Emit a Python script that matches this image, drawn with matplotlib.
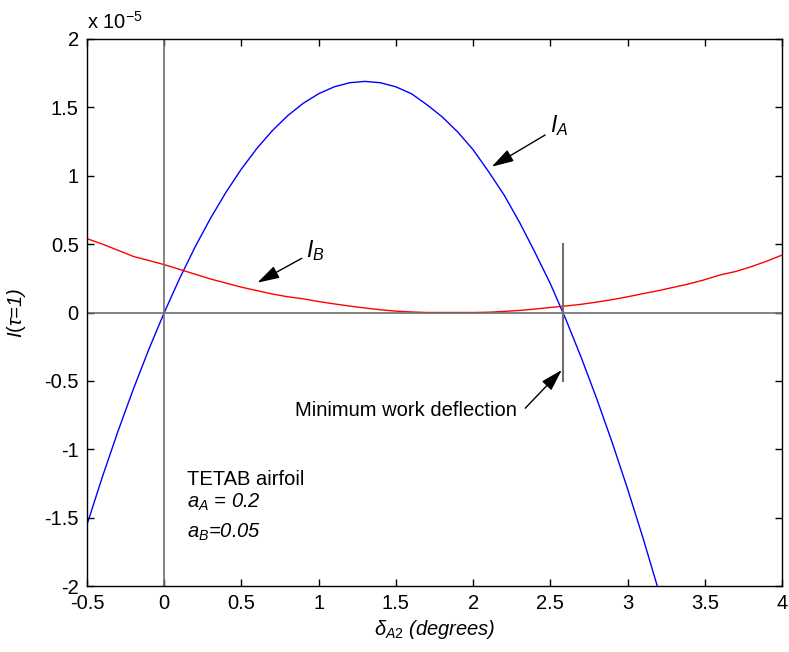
import matplotlib
matplotlib.use('Agg')
import matplotlib.pyplot as plt
import numpy as np

plt.rcParams['font.family'] = ['Liberation Sans', 'DejaVu Sans']
plt.rcParams['mathtext.fontset'] = 'custom'
plt.rcParams['mathtext.rm'] = 'Liberation Sans'
plt.rcParams['mathtext.it'] = 'Liberation Sans:italic'
plt.rcParams['mathtext.bf'] = 'Liberation Sans:bold'

FS = 14.5

# deflection angle (degrees)
delta_a = np.round(np.arange(-0.5, 3.21, 0.1), 2)
delta_b = np.round(np.arange(-0.5, 4.01, 0.1), 2)

# I(tau=1), in units of 1e-5
I_A = [-1.55, -1.20, -0.87, -0.56, -0.27, 0.00, 0.25, 0.48, 0.69, 0.88,
       1.05, 1.20, 1.33, 1.44, 1.53, 1.60, 1.65, 1.68, 1.69, 1.68,
       1.65, 1.60, 1.52, 1.43, 1.32, 1.19, 1.03, 0.86, 0.66, 0.44,
       0.21, -0.05, -0.33, -0.63, -0.95, -1.29, -1.65, -2.03]
I_B = [0.54, 0.50, 0.455, 0.41, 0.38, 0.35, 0.315, 0.28, 0.245, 0.215,
       0.185, 0.16, 0.135, 0.115, 0.10, 0.08, 0.063, 0.047, 0.033, 0.02,
       0.01, 0.004, 0.0, 0.0, 0.0, 0.0, 0.002, 0.008, 0.015, 0.025,
       0.037, 0.048, 0.06, 0.076, 0.094, 0.115, 0.138, 0.16, 0.185, 0.21,
       0.24, 0.275, 0.30, 0.335, 0.375, 0.42]

min_work = 2.58

fig = plt.figure(figsize=(7.89, 6.52), dpi=100)
ax = fig.add_axes([0.1103, 0.1012, 0.8809, 0.839])

ax.plot(delta_a, I_A, color='#0000ff', lw=1.0)
ax.plot(delta_b, I_B, color='#ff0000', lw=1.0)

# zero axes and minimum work marker
ax.axhline(0, color='#6e6e6e', lw=1.2)
ax.axvline(0, color='#6e6e6e', lw=1.2)
ax.plot([min_work, min_work], [-0.5, 0.5], color='#6e6e6e', lw=1.5)

ax.set_xlim(-0.5, 4)
ax.set_ylim(-2, 2)
ax.set_xticks(np.arange(-0.5, 4.01, 0.5))
ax.set_xticklabels(['-0.5', '0', '0.5', '1', '1.5', '2', '2.5', '3', '3.5', '4'])
ax.set_yticks(np.arange(-2, 2.01, 0.5))
ax.set_yticklabels(['-2', '-1.5', '-1', '-0.5', '0', '0.5', '1', '1.5', '2'])
ax.tick_params(direction='in', length=5, width=1, top=True, right=True,
               labelsize=FS, pad=6)
for s in ax.spines.values():
    s.set_linewidth(1.0)

ax.text(0.0, 1.012, r'x 10$^{\mathregular{-5}}$', transform=ax.transAxes,
        fontsize=FS, ha='left', va='bottom')

ax.set_xlabel(r'$\delta_{A2}$ (degrees)', fontsize=FS, style='italic', labelpad=3)
ax.set_ylabel(r'$I(\tau$=1)', fontsize=FS, style='italic', labelpad=0)
ax.yaxis.set_label_coords(-0.085, 0.5)

arrow = dict(arrowstyle='-|>,head_length=0.75,head_width=0.22', color='black',
             lw=1.0, mutation_scale=18, shrinkA=0, shrinkB=0)
ax.annotate('', xy=(2.12, 1.066), xytext=(2.466, 1.298), arrowprops=arrow)
ax.text(2.50, 1.37, r'$I_A$', fontsize=FS + 2, ha='left', va='center')
ax.annotate('', xy=(0.603, 0.218), xytext=(0.89, 0.396), arrowprops=arrow)
ax.text(0.92, 0.45, r'$I_B$', fontsize=FS + 2, ha='left', va='center')
ax.annotate('', xy=(2.574, -0.42), xytext=(2.337, -0.70), arrowprops=arrow)
ax.text(0.847, -0.713, 'Minimum work deflection', fontsize=FS,
        ha='left', va='center')

ax.text(0.145, -1.22, 'TETAB airfoil', fontsize=FS, ha='left', va='center')
ax.text(0.145, -1.39, r'$a_A$ = 0.2', fontsize=FS, style='italic',
        ha='left', va='center')
ax.text(0.145, -1.61, r'$a_B$=0.05', fontsize=FS, style='italic',
        ha='left', va='center')

fig.savefig('out.png', dpi=100)
